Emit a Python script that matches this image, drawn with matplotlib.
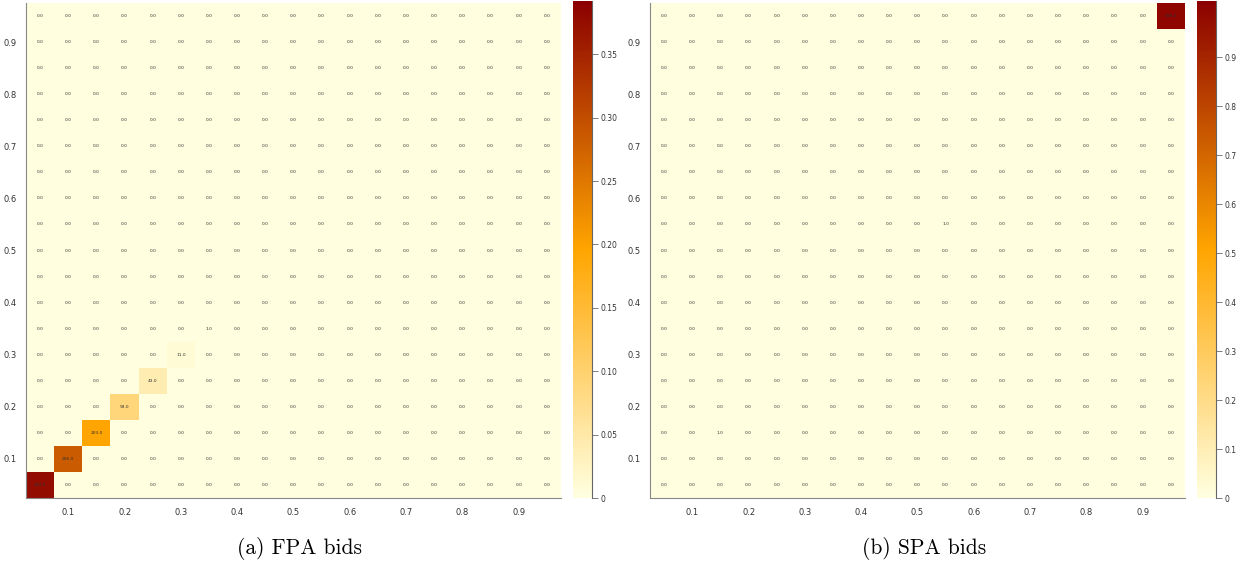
import numpy as np
import matplotlib
matplotlib.use("Agg")
import matplotlib.pyplot as plt
from matplotlib.colors import LinearSegmentedColormap, Normalize
from matplotlib.ticker import FuncFormatter

# bin centres of the bid grid (19 bins of width 0.05)
bin_centres = [0.05, 0.10, 0.15, 0.20, 0.25, 0.30, 0.35, 0.40, 0.45, 0.50,
               0.55, 0.60, 0.65, 0.70, 0.75, 0.80, 0.85, 0.90, 0.95]
tick_values = [0.1, 0.2, 0.3, 0.4, 0.5, 0.6, 0.7, 0.8, 0.9]

# non-zero cells (all on the diagonal)
fpa_cells = [0, 1, 2, 3, 4, 5, 6]
fpa_counts = [393.0, 296.0, 203.0, 93.0, 43.0, 11.0, 1.0]
spa_cells = [2, 10, 18]
spa_counts = [1.0, 1.0, 998.0]

# colourbar ranges
fpa_cbar_max = 0.392
spa_cbar_max = 1.015
fpa_cbar_ticks = [0, 0.05, 0.10, 0.15, 0.20, 0.25, 0.30, 0.35]
spa_cbar_ticks = [0, 0.1, 0.2, 0.3, 0.4, 0.5, 0.6, 0.7, 0.8, 0.9]

captions = ["(a) FPA bids", "(b) SPA bids"]

heat = LinearSegmentedColormap.from_list(
    "heat", ["#ffffe0", "#ffa500", "#8b0000"])

n = len(bin_centres)
edges = np.concatenate([[bin_centres[0] - 0.025], np.array(bin_centres) + 0.025])


def build(cells, counts):
    m = np.zeros((n, n))
    for i, c in zip(cells, counts):
        m[i, i] = c
    return m


fig = plt.figure(figsize=(12.45, 5.71), dpi=100)

panels = [
    (build(fpa_cells, fpa_counts), fpa_cbar_max, fpa_cbar_ticks, "%.2f",
     [0.0209, 0.1278, 0.4297, 0.8669], [0.4602, 0.1278, 0.0153, 0.8705]),
    (build(spa_cells, spa_counts), spa_cbar_max, spa_cbar_ticks, "%.1f",
     [0.5221, 0.1278, 0.4297, 0.8669], [0.9614, 0.1278, 0.0153, 0.8705]),
]

grey = "#555555"
for k, (counts, vmax, cticks, fmt, ax_rect, cax_rect) in enumerate(panels):
    ax = fig.add_axes(ax_rect)
    cax = fig.add_axes(cax_rect)
    frac = counts / counts.sum()
    norm = Normalize(0, vmax)
    mesh = ax.pcolormesh(edges, edges, frac, cmap=heat, norm=norm)
    for r in range(n):
        for c in range(n):
            ax.text(bin_centres[c], bin_centres[r], "%.1f" % counts[r, c],
                    ha="center", va="center", fontsize=3.2, color="#333333")
    ax.set_xlim(edges[0], edges[-1])
    ax.set_ylim(edges[0], edges[-1])
    ax.set_xticks(tick_values)
    ax.set_yticks(tick_values)
    ax.set_xticklabels(["%.1f" % t for t in tick_values])
    ax.set_yticklabels(["%.1f" % t for t in tick_values])
    ax.tick_params(length=0, labelsize=6, colors="#333333", pad=7)
    for s in ["top", "right"]:
        ax.spines[s].set_visible(False)
    for s in ["left", "bottom"]:
        ax.spines[s].set_color("#888888")
        ax.spines[s].set_linewidth(0.8)

    cb = fig.colorbar(mesh, cax=cax, ticks=cticks)
    cb.outline.set_visible(False)
    cax.spines["right"].set_visible(True)
    cax.spines["right"].set_color("#666666")
    cax.spines["right"].set_linewidth(0.8)
    cb.ax.yaxis.set_major_formatter(
        FuncFormatter(lambda v, p, f=fmt: "0" if v == 0 else f % v))
    cax.tick_params(length=4, width=0.6, color="#666666", labelsize=5.5,
                    labelcolor="#333333", pad=2)

    fig.text(ax_rect[0] + ax_rect[2] / 2 + 0.005, 0.04, captions[k],
             ha="center", va="center", fontsize=15.5, family="cmr10")

fig.savefig("out.png", dpi=100)
